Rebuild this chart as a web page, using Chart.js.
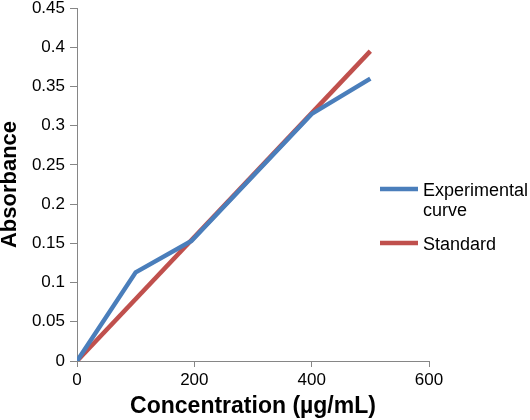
<!DOCTYPE html>
<html>
<head>
<meta charset="utf-8">
<script src="https://cdn.jsdelivr.net/npm/chart.js@4"></script>
<style>
  html, body { margin: 0; padding: 0; background: #fff; }
  #wrap { width: 530px; height: 420px; }
</style>
</head>
<body>
<div id="wrap"><canvas id="lineChart" width="530" height="420"></canvas></div>
<script>
// chart data
const experimentalX = [0, 100, 195, 400, 500];
const experimentalY = [0, 0.113, 0.153, 0.315, 0.36];
const standardX = [0, 500];
const standardY = [0, 0.395];
const seriesNames = [["Experimental", "curve"], ["Standard"]];
const xTicks = [0, 200, 400, 600];

const FONT = "'Liberation Sans', Arial, sans-serif";
const toPoints = (xs, ys) => xs.map((x, i) => ({ x: x, y: ys[i] }));

// draws the legend at the right side, with wrapped labels
const sideLegend = {
  id: "sideLegend",
  afterDraw(chart) {
    const ctx = chart.ctx;
    const x0 = 380;
    let y = 189;
    ctx.save();
    ctx.font = "18px " + FONT;
    ctx.textBaseline = "middle";
    chart.data.datasets.forEach((ds) => {
      ctx.strokeStyle = ds.borderColor;
      ctx.lineWidth = 4.5;
      ctx.beginPath();
      ctx.moveTo(x0, y);
      ctx.lineTo(x0 + 38, y);
      ctx.stroke();
      ctx.fillStyle = "#000";
      ds.legendLines.forEach((t, i) => {
        ctx.fillText(t, x0 + 43, y + 2 + i * 20);
      });
      y += ds.legendLines.length * 20 + 14;
    });
    ctx.restore();
  },
};

const ctx = document.getElementById("lineChart").getContext("2d");
new Chart(ctx, {
  type: "line",
  data: {
    datasets: [
      {
        label: seriesNames[0].join(" "),
        legendLines: seriesNames[0],
        data: toPoints(experimentalX, experimentalY),
        borderColor: "#4A7EBB",
        borderWidth: 4.5,
        pointRadius: 0,
        tension: 0,
      },
      {
        label: seriesNames[1].join(" "),
        legendLines: seriesNames[1],
        data: toPoints(standardX, standardY),
        borderColor: "#C0504D",
        borderWidth: 4.5,
        pointRadius: 0,
        tension: 0,
      },
    ],
  },
  options: {
    responsive: false,
    animation: false,
    layout: { padding: { top: 8, right: 101, bottom: 0, left: 0 } },
    plugins: {
      legend: { display: false },
      tooltip: { enabled: false },
    },
    scales: {
      x: {
        type: "linear",
        min: 0,
        max: 600,
        afterBuildTicks: (axis) => {
          axis.ticks = xTicks.map((v) => ({ value: v }));
        },
        afterFit: (axis) => {
          axis.height = 59;
          axis.paddingLeft = 0;
          axis.paddingRight = 0;
        },
        grid: { drawOnChartArea: false, drawTicks: true, tickLength: 6, color: "#868686" },
        border: { color: "#868686", width: 1 },
        ticks: {
          color: "#000",
          font: { family: FONT, size: 17 },
          maxRotation: 0,
          padding: 3,
        },
        title: {
          display: true,
          text: "Concentration (µg/mL)",
          color: "#000",
          font: { family: FONT, size: 23, weight: "bold", lineHeight: 1.2 },
          padding: { top: 4, bottom: 0 },
        },
      },
      y: {
        min: 0,
        max: 0.45,
        afterFit: (axis) => {
          axis.width = 77;
          axis.paddingTop = 0;
          axis.paddingBottom = 0;
        },
        ticks: {
          stepSize: 0.05,
          color: "#000",
          font: { family: FONT, size: 17 },
          padding: 5,
          callback: (v) => parseFloat(v.toFixed(2)).toString(),
        },
        grid: { drawOnChartArea: false, drawTicks: true, tickLength: 7, color: "#868686" },
        border: { color: "#868686", width: 1 },
        title: {
          display: true,
          text: "Absorbance",
          color: "#000",
          font: { family: FONT, size: 22, weight: "bold", lineHeight: 0.9 },
          padding: { top: 0, bottom: 0 },
        },
      },
    },
  },
  plugins: [sideLegend],
});
</script>
</body>
</html>
